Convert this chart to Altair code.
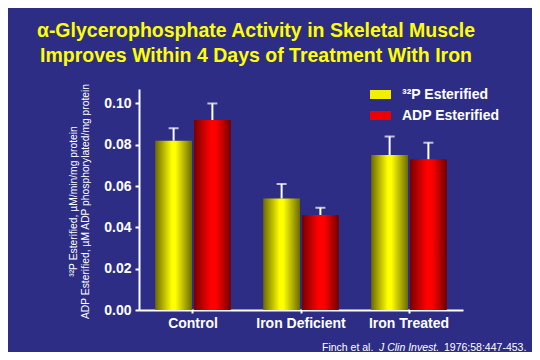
import altair as alt
import pandas as pd

categories = ["Control", "Iron Deficient", "Iron Treated"]
series = ["³²P Esterified", "ADP Esterified"]
p32_values = [0.082, 0.054, 0.075]
p32_upper = [0.088, 0.061, 0.084]
adp_values = [0.092, 0.046, 0.073]
adp_upper = [0.100, 0.0495, 0.081]
y_ticks = [0.0, 0.02, 0.04, 0.06, 0.08, 0.10]

title_lines = ["α-Glycerophosphate Activity in Skeletal Muscle",
               "Improves Within 4 Days of Treatment With Iron"]
y_title = ["³²P Esterified, µM/min/mg protein",
           "ADP Esterified, µM ADP phosphorylated/mg protein"]

rows = []
for i, c in enumerate(categories):
    rows.append({"category": c, "series": series[0], "value": p32_values[i], "upper": p32_upper[i]})
    rows.append({"category": c, "series": series[1], "value": adp_values[i], "upper": adp_upper[i]})
df = pd.DataFrame(rows)

FONT = "Liberation Sans"
BG = "#2d2d86"

yel_grad = {"gradient": "linear", "x1": 0, "y1": 0, "x2": 1, "y2": 0,
            "stops": [{"offset": 0, "color": "#6b6b00"},
                      {"offset": 0.45, "color": "#ffff00"},
                      {"offset": 0.55, "color": "#ffff00"},
                      {"offset": 1, "color": "#6b6b00"}]}
red_grad = {"gradient": "linear", "x1": 0, "y1": 0, "x2": 1, "y2": 0,
            "stops": [{"offset": 0, "color": "#780000"},
                      {"offset": 0.45, "color": "#ff0000"},
                      {"offset": 0.6, "color": "#ff0000"},
                      {"offset": 1, "color": "#700000"}]}

x_enc = alt.X("category:N", sort=categories,
              scale=alt.Scale(paddingInner=0.3, paddingOuter=0.15),
              axis=alt.Axis(title=None, labelAngle=0, labelColor="white", labelFont=FONT,
                            labelFontSize=14, labelFontWeight="bold", labelPadding=3,
                            tickSize=3, tickColor="white", tickWidth=2,
                            domainColor="white", domainWidth=2))
xo_enc = alt.XOffset("series:N", sort=series,
                     scale=alt.Scale(domain=series, paddingInner=0.05, paddingOuter=0))
y_scale = alt.Scale(domain=[0, 0.107], nice=False, zero=True)
y_axis = alt.Axis(values=y_ticks, format=".2f", title=y_title, titleFont=FONT,
                  titleFontSize=10.3, titleFontWeight="normal", titleColor="white",
                  titleAngle=-90, titleX=-61, titleY=112, titleAlign="center",
                  titleBaseline="bottom", titleLineHeight=12,
                  labelColor="white", labelFont=FONT, labelFontSize=14,
                  labelFontWeight="bold", labelPadding=4, tickSize=4,
                  tickColor="white", tickWidth=2, domainColor="white",
                  domainWidth=2, grid=False)

base = alt.Chart(df)

bars = base.mark_bar().encode(
    x=x_enc, xOffset=xo_enc,
    y=alt.Y("value:Q", scale=y_scale, axis=y_axis),
    fill=alt.condition("datum.series === 'ADP Esterified'", alt.value(red_grad), alt.value(yel_grad)),
)

stems = base.mark_rule(color="white", strokeWidth=2).encode(
    x=x_enc, xOffset=xo_enc,
    y=alt.Y("value:Q", scale=y_scale, axis=y_axis),
    y2="upper:Q",
)

caps = base.mark_tick(color="white", thickness=2, size=10, orient="horizontal").encode(
    x=x_enc, xOffset=xo_enc,
    y=alt.Y("upper:Q", scale=y_scale, axis=y_axis),
)

legend_layer = base.mark_square(opacity=0).encode(
    x=x_enc, xOffset=xo_enc,
    y=alt.Y("value:Q", scale=y_scale, axis=y_axis),
    color=alt.Color("series:N", sort=series,
                    scale=alt.Scale(domain=series, range=["#f0f000", "#f00000"]),
                    legend=alt.Legend(
                        title=None, orient="none", legendX=231, legendY=-5,
                        symbolType="M-1,-0.43H1V0.43H-1Z", symbolSize=441,
                        symbolOpacity=1, symbolStrokeWidth=0,
                        labelFont=FONT, labelFontWeight="bold", labelFontSize=14,
                        labelColor="white", labelOffset=11, rowPadding=3, padding=0)),
)


def text_layer(s, x, y, size, color, weight="normal", style="normal", align="left"):
    return alt.Chart(alt.Data(values=[{}])).mark_text(
        text=s, font=FONT, fontSize=size, fontWeight=weight, fontStyle=style,
        color=color, align=align, baseline="alphabetic",
    ).encode(x=alt.value(x), y=alt.value(y))


t1 = text_layer(title_lines[0], 117, -52, 19.5, "#ffff00", weight="bold", align="center")
t2 = text_layer(title_lines[1], 117, -27, 19.5, "#ffff00", weight="bold", align="center")
f1 = text_layer("Finch et al.", 183, 262, 10.5, "white")
f2 = text_layer("J Clin Invest.", 240, 262, 10.5, "white", style="italic")
f3 = text_layer("1976;58:447-453.", 305, 262, 10.5, "white")

chart = alt.layer(bars, stems, caps, legend_layer, t1, t2, f1, f2, f3).properties(
    width=324, height=221,
    autosize=alt.AutoSizeParams(type="none"),
    padding={"left": 131, "top": 81, "right": 69, "bottom": 42},
).configure(background=BG).configure_view(stroke=None)

chart.save("out.html", embed_options={"renderer": "svg", "actions": False})
